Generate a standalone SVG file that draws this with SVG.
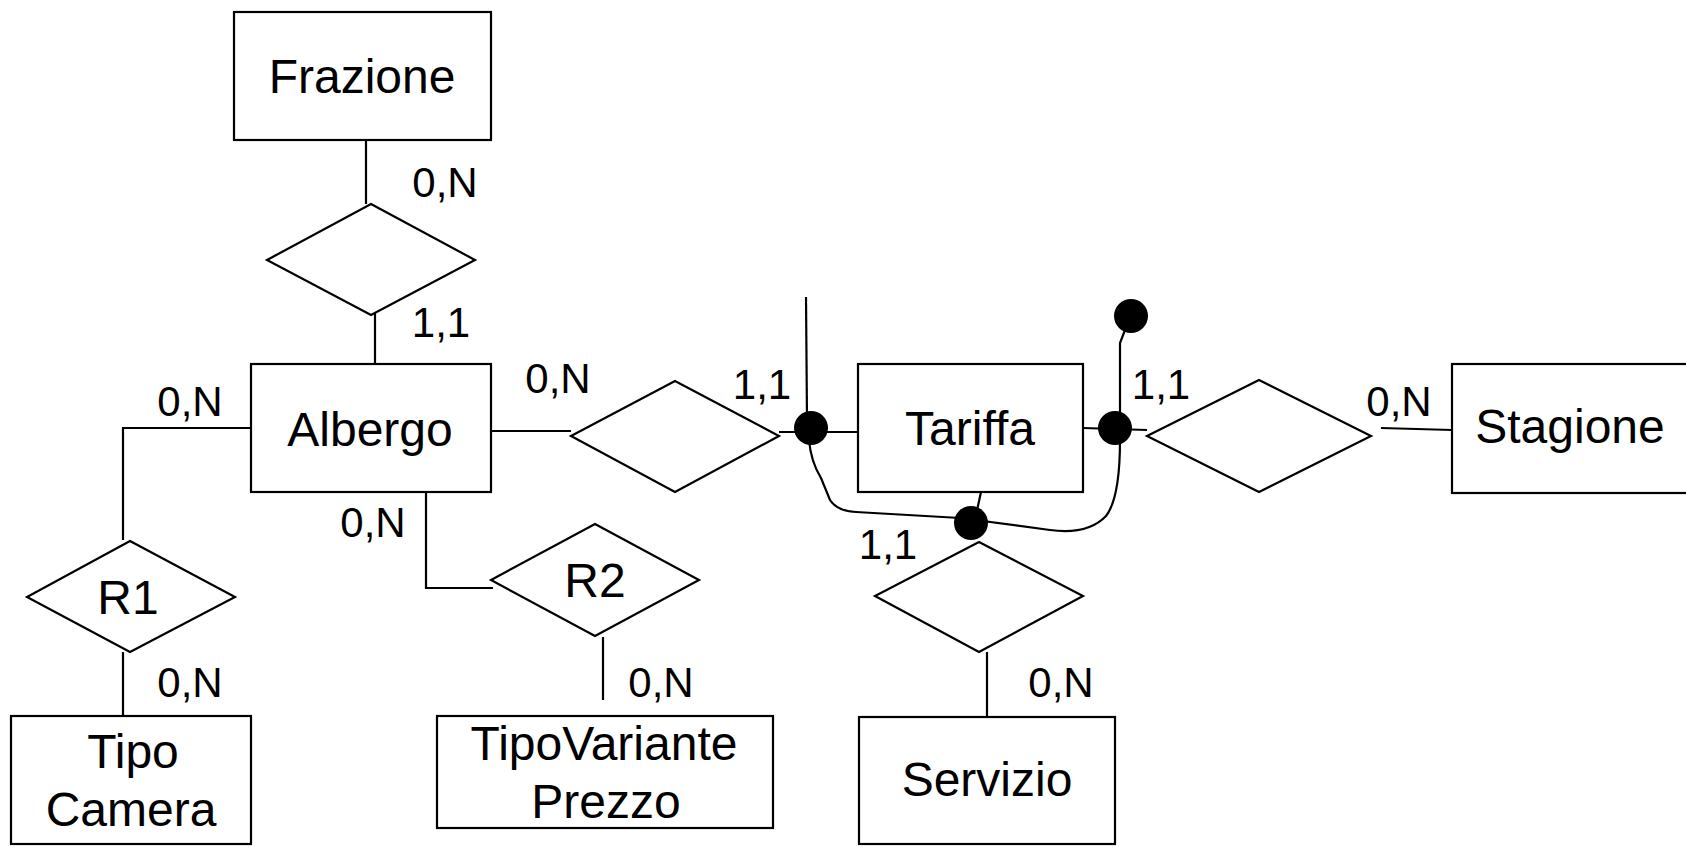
<svg xmlns="http://www.w3.org/2000/svg" width="1686" height="850" viewBox="0 0 1686 850">
<style>
.ent{fill:#fff;stroke:#000;stroke-width:2.2}
.rel{fill:#fff;stroke:#000;stroke-width:2.2}
.ln{fill:none;stroke:#000;stroke-width:2.2}
.dot{fill:#000}
.t{font-family:"Liberation Sans",Arial,sans-serif;font-size:48px;fill:#000;text-anchor:middle}
.lb{font-family:"Liberation Sans",Arial,sans-serif;font-size:42px;fill:#000;text-anchor:middle}
</style>
<rect width="1686" height="850" fill="#fff"/>
<g id="connectors">
<line class="ln" x1="366" y1="140" x2="366" y2="204"/>
<line class="ln" x1="375" y1="300" x2="375" y2="364"/>
<polyline class="ln" points="251,428 123,428 123,540"/>
<line class="ln" x1="123" y1="652" x2="123" y2="716"/>
<polyline class="ln" points="426,492 426,588 493,588"/>
<line class="ln" x1="603" y1="637" x2="603" y2="700"/>
<line class="ln" x1="491" y1="431" x2="571" y2="431"/>
<line class="ln" x1="779" y1="432" x2="858" y2="432"/>
<line class="ln" x1="806" y1="297" x2="807" y2="420"/>
<line class="ln" x1="1083" y1="428" x2="1147" y2="430"/>
<polyline class="ln" points="1120,420 1120,343 1125,330"/>
<line class="ln" x1="981" y1="492" x2="976" y2="515"/>
<line class="ln" x1="987" y1="652" x2="987" y2="717"/>
<line class="ln" x1="1381" y1="428" x2="1452" y2="430"/>
<path class="ln" d="M 809 440 Q 811 462 821 478 L 830 500 Q 837 511 856 512 L 960 518 L 1050 530 Q 1088 535 1106 516 Q 1120 498 1120 440"/>
<circle class="dot" cx="811" cy="428" r="17"/>
<circle class="dot" cx="1115" cy="428" r="17"/>
<circle class="dot" cx="971" cy="523" r="17"/>
<circle class="dot" cx="1131" cy="316" r="17"/>
</g>
<g id="frazione"><rect class="ent" x="234" y="12" width="257" height="128"/><text class="t" x="362" y="93">Frazione</text></g>
<g id="rel-frazione"><polygon class="rel" points="371,204 475,260 371,315 267,260"/></g>
<g id="albergo"><rect class="ent" x="251" y="364" width="240" height="128"/><text class="t" x="370" y="446">Albergo</text></g>
<g id="rel-albergo-tariffa"><polygon class="rel" points="571,436 675,381 779,436 675,492"/></g>
<g id="tariffa"><rect class="ent" x="858" y="364" width="225" height="128"/><text class="t" x="970" y="445">Tariffa</text></g>
<g id="rel-tariffa-stagione"><polygon class="rel" points="1147,436 1259,380 1371,436 1259,492"/></g>
<g id="stagione"><rect class="ent" x="1452" y="364" width="260" height="129"/><text class="t" x="1570" y="443">Stagione</text></g>
<g id="rel-tariffa-servizio"><polygon class="rel" points="979,542 1083,596 979,652 875,596"/></g>
<g id="servizio"><rect class="ent" x="859" y="717" width="256" height="127"/><text class="t" x="987" y="796">Servizio</text></g>
<g id="r1"><polygon class="rel" points="130,541 235,597 130,652 27,597"/><text class="t" x="128" y="614">R1</text></g>
<g id="tipocamera"><rect class="ent" x="11" y="716" width="240" height="128"/><text class="t" x="133" y="768">Tipo</text><text class="t" x="131" y="826">Camera</text></g>
<g id="r2"><polygon class="rel" points="595,524 699,580 595,636 491,580"/><text class="t" x="595" y="597">R2</text></g>
<g id="tipovarianteprezzo"><rect class="ent" x="437" y="716" width="336" height="112"/><text class="t" x="604" y="760">TipoVariante</text><text class="t" x="606" y="818">Prezzo</text></g>
<g id="labels">
<text class="lb" x="445" y="197">0,N</text>
<text class="lb" x="441" y="337">1,1</text>
<text class="lb" x="190" y="416">0,N</text>
<text class="lb" x="558" y="393">0,N</text>
<text class="lb" x="762" y="399">1,1</text>
<text class="lb" x="1161" y="399">1,1</text>
<text class="lb" x="1399" y="416">0,N</text>
<text class="lb" x="373" y="537">0,N</text>
<text class="lb" x="888" y="559">1,1</text>
<text class="lb" x="190" y="697">0,N</text>
<text class="lb" x="661" y="697">0,N</text>
<text class="lb" x="1061" y="697">0,N</text>
</g>
</svg>
